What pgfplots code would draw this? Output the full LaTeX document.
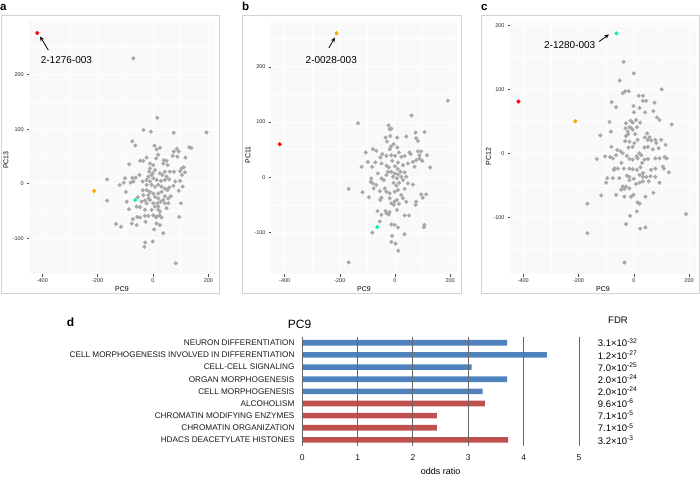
\documentclass[border=0pt]{standalone}
\usepackage{fontspec}
\setmainfont{Liberation Sans}
\usepackage{pgfplots}
\pgfplotsset{compat=1.18}
\usepackage{pgfplotstable}
\usetikzlibrary{arrows.meta}
\definecolor{ptgray}{HTML}{A8A8A8}
\definecolor{ptred}{HTML}{FF0000}
\definecolor{ptorange}{HTML}{FFA500}
\definecolor{ptgreen}{HTML}{00FA9A}
\definecolor{panelbg}{HTML}{F9F9F9}
\definecolor{framecol}{HTML}{D3D3D3}
\definecolor{barblue}{HTML}{4F81BD}
\definecolor{barred}{HTML}{C0504D}

\pgfplotstableread{
x y
15.7 121
-34 98.5
-8 95.5
75 93.6
193 94
-75 78
-64 70
5 70
13 63
25 66
131 67
139 65.5
86 64
75 59
93 59
-23 48
19 53
11 46.5
71 51
88 49.6
117 48
-46 42
-35 42
39 43
49 42
37 37
53 34
-11 37
1 34
-86 35.5
104 28
111 30
98 23
116 21
105 16
-11 28
-14 22
-1 19
25 19
43 22
61 22
76 22
34 16
49 13
-49 16
-75 11
-101 10
-63 11
-166 8
-105 2
-81 2
-71 4
-120 -2.4
-98 -15
-37 4
-23 7
-11 4
1 10
13 7
29 5
43 7
58 8
80 4
98 5
107 -5.5
93 -13
74 -4
59 -7
52 -12
64 -23
43 -23
55 -27
-37 -12
-23 -12
-11 -15
-35 -21
-17 -21
1 -18
19 -18
31 -15
37 -30
-166 -31
-95 -33
-55 -25
-41 -33
-29 -31
-16 -27
-23 -36
-11 -30
16 -36
28 -33
43 -36
55 -36
101 -36
-87 -47
-59 -42
-47 -43
-29 -48
19 -42
49 -45
25 -51
13 -61
-73 -65
-57 -61
-47 -62
-29 -59
-17 -59
1 -58
10 -61
31 -62
-134 -74
-116 -79
-77 -73
-59 -76
-27 -70
13 -73
25 -76
37 -91
4 -84
95 -61
-28 -108
-1 -106
-31 -116
82 -146
-71 230
-5 16
7 25
-17 13
-5 -2
7 -5.5
19 -2
-23 -2
31 -5.5
43 -9
7 -24
19 -27
1 -36
7 -42
-5 -48
19 -48
23 -58
}\dataA

\pgfplotstableread{
x y
192 139
60 112
-134 98
-23 94
-13 88
-19 87
75 81
107 82
-34 72
-17 75
8 72
41 74
-29 65
77 71
83 66
-14 56
-19 51
8 54
-80 51
-68 48
-106 45
-46 42
-31 39
-53 36
-13 40
0 39
23 37
35 39
53 45
57 42
83 47
95 47
89 40
116 40
-98 28
-71 27
-49 25
-31 21
-22 18
11 27
29 22
47 25
65 28
77 31
99 30
89 34
71 19
-121 19
-83 19
128 18
-13 10
-1 7
11 5
-7 1
7 -2
23 1
35 9
41 1
-62 7
-49 -2
-31 4
-86 -2
-80 -11
-88 -8
-68 -14
-77 -20
-168 -21
-118 -27
-94 -36
-55 -25
-37 -20
-31 -26
-19 -29
-1 -26
11 -23
23 -32
35 -21
47 -11
65 -13
-53 -41
-49 -37
-19 -38
-1 -44
7 -41
29 -38
41 -44
-13 -47
-4 -50
14 -48
77 -44
75 -50
95 -31
113 -31
101 -37
-34 -61
-19 -63
-23 -67
-31 -65
7 -59
-63 -61
-49 -68
-55 -80
35 -69
51 -69
-13 -85
-1 -86
11 -91
107 -86
105 -90
-82 -100
-10 -106
35 -103
-13 -117
2 -120
12 -133
-168 -154
0 20
10 15
-5 -10
15 -10
-10 30
20 10
5 -15
-25 10
30 -5
-40 -5
15 45
-5 60
}\dataB

\pgfplotstableread{
x y
-37 143
0 125
-51 114
101 100
-40 94
-31 97
-18 97
18 90
33 90
-80 80
33 82
45 82
75 79
-64 72
-1 74
21 71
0 64
41 64
71 66
84 56
93 52
-88 49
137 45
-28 47
-12 51
-4 48
8 52
23 48
-30 39
-16 41
-4 37
11 41
-22 34
-83 34
-121 28
48 31
57 25
51 21
63 20
78 21
99 21
81 16
90 8
115 13
-28 27
-31 19
-16 18
2 16
14 21
-4 10
-19 9
-81 10
39 9
51 10
69 6
-60 5
-48 3
-64 -3
-40 0
-76 -8
-86 -6
-104 -5
-134 -9
-25 -4
-16 -9
-4 -10
14 -8
27 -3
39 -10
51 -9
78 -8
93 -8
111 -6
119 -8
-70 -24
-58 -24
-72 -26
-36 -24
-16 -24
-4 -25
11 -26
24 -22
33 -31
63 -26
78 -24
105 -21
109 -24
127 -30
-96 -39
-76 -39
-52 -39
-16 -37
-16 -42
21 -34
33 -37
45 -37
60 -36
78 -37
-100 -46
-40 -52
-28 -52
-16 -55
8 -48
21 -46
33 -44
54 -44
93 -46
-46 -57
-34 -56
-64 -65
-34 -68
-10 -68
-1 -65
42 -68
71 -62
-118 -66
21 -79
14 -77
-168 -79
11 -91
-13 -98
189 -95
-28 -111
23 -118
42 -116
-168 -125
-34 -171
-20 30
-10 40
5 30
20 0
30 -15
0 -40
-25 -35
40 25
-45 -15
10 -5
}\dataC

\pgfplotstableread{
y odds
0 3.70
1 4.42
2 3.06
3 3.70
4 3.26
}\dataBlue
\pgfplotstableread{
y odds
5 3.30
6 2.43
7 2.43
8 3.72
}\dataRed

\pgfplotsset{
  scatterpanel/.style={
    scale only axis, width=185.7pt, height=253pt, anchor=south west,
    axis background/.style={fill=panelbg},
    axis line style={draw=none},
    xtick={-400,-200,0,200}, minor xtick={-300,-100,100},
    grid=both,
    major grid style={white, line width=0.9pt},
    minor grid style={white, line width=0.45pt},
    tick align=outside, major tick length=2.5pt, minor tick length=0pt,
    xtick pos=bottom, ytick pos=left,
    every tick/.style={black!70, line width=0.4pt},
    ticklabel style={font=\fontsize{5.5}{6}\selectfont, text=black!85},
    xticklabel style={yshift=1pt},
    yticklabel style={xshift=0.5pt},
    /pgf/number format/assume math mode=true,
  },
  graypts/.style={only marks, mark=*, mark size=1.85pt, color=ptgray},
}

\begin{document}
\begin{tikzpicture}[x=1pt,y=1pt]
\path[use as bounding box] (0,0) rectangle (700,-479);

% frames
\draw[framecol, line width=0.8pt] (1,-15) rectangle (219,-293);
\draw[framecol, line width=0.8pt] (242,-15) rectangle (461,-293);
\draw[framecol, line width=0.8pt] (481,-15) rectangle (699,-293);

% panel a
\begin{axis}[scatterpanel, at={(29.3pt,-274pt)},
  xmin=-447, xmax=224, ymin=-165.7, ymax=298.5,
  ytick={-100,0,100,200}, minor ytick={-50,50,150,250}]
\addplot[graypts] table {\dataA};
\addplot[only marks, mark=*, mark size=1.85pt, color=ptorange] coordinates {(-212,-13.4)};
\addplot[only marks, mark=*, mark size=1.85pt, color=ptgreen] coordinates {(-64,-30)};
\addplot[only marks, mark=*, mark size=1.85pt, color=ptred] coordinates {(-418,276.5)};
\draw[-{Stealth[length=4.5pt,width=4pt]}, line width=0.8pt] (axis cs:-378,245) -- (axis cs:-408,270);
\node[font=\fontsize{10}{12}\selectfont] at (axis cs:-313,227) {2-1276-003};
\end{axis}

% panel b
\begin{axis}[scatterpanel, at={(271pt,-274pt)},
  xmin=-449.6, xmax=224, ymin=-175, ymax=283,
  ytick={-100,0,100,200}, minor ytick={-150,-50,50,150,250}]
\addplot[graypts] table {\dataB};
\addplot[only marks, mark=*, mark size=1.85pt, color=ptred] coordinates {(-418,60)};
\addplot[only marks, mark=*, mark size=1.85pt, color=ptgreen] coordinates {(-64,-90)};
\addplot[only marks, mark=*, mark size=1.85pt, color=ptorange] coordinates {(-212,261)};
\draw[-{Stealth[length=4.5pt,width=4pt]}, line width=0.8pt] (axis cs:-240,234) -- (axis cs:-218,253);
\node[font=\fontsize{10}{12}\selectfont] at (axis cs:-231,212.5) {2-0028-003};
\end{axis}

% panel c
\begin{axis}[scatterpanel, at={(510pt,-274pt)},
  xmin=-448, xmax=224, ymin=-189, ymax=207,
  ytick={-100,0,100,200}, minor ytick={-150,-50,50,150}]
\addplot[graypts] table {\dataC};
\addplot[only marks, mark=*, mark size=1.85pt, color=ptred] coordinates {(-417,81)};
\addplot[only marks, mark=*, mark size=1.85pt, color=ptorange] coordinates {(-212,50)};
\addplot[only marks, mark=*, mark size=1.85pt, color=ptgreen] coordinates {(-63,187.5)};
\draw[-{Stealth[length=4.5pt,width=4pt]}, line width=0.8pt] (axis cs:-125,175) -- (axis cs:-90,186);
\node[font=\fontsize{10}{12}\selectfont] at (axis cs:-232,168.7) {2-1280-003};
\end{axis}

% axis labels for scatter panels
\node[font=\fontsize{7}{8}\selectfont, rotate=90] at (6,-160) {PC13};
\node[font=\fontsize{7}{8}\selectfont, rotate=90] at (248,-155) {PC11};
\node[font=\fontsize{7}{8}\selectfont, rotate=90] at (488.5,-156.7) {PC12};
\node[font=\fontsize{7}{8}\selectfont] at (122,-289) {PC9};
\node[font=\fontsize{7}{8}\selectfont] at (364,-289) {PC9};
\node[font=\fontsize{7}{8}\selectfont] at (603,-289) {PC9};

% panel letters
\node[font=\fontsize{11.5}{13}\selectfont\bfseries, anchor=base west, inner sep=0pt] at (0,-10) {a};
\node[font=\fontsize{11.5}{13}\selectfont\bfseries, anchor=base west, inner sep=0pt] at (242,-10) {b};
\node[font=\fontsize{11.5}{13}\selectfont\bfseries, anchor=base west, inner sep=0pt] at (481,-10) {c};
\node[font=\fontsize{12}{14}\selectfont\bfseries, anchor=base west, inner sep=0pt] at (66.7,-326) {d};

% panel d
\begin{axis}[at={(302.3pt,-446pt)}, anchor=south west,
  scale only axis, width=276.7pt, height=109.3pt,
  xmin=0, xmax=5, ymin=-0.5, ymax=8.5, y dir=reverse,
  xbar, bar width=5.6pt,
  axis line style={draw=none},
  major tick length=0pt,
  xtick={0,1,2,3,4,5},
  ytick={0,1,2,3,4,5,6,7,8},
  yticklabels={NEURON DIFFERENTIATION, CELL MORPHOGENESIS INVOLVED IN DIFFERENTIATION, CELL-CELL SIGNALING, ORGAN MORPHOGENESIS, CELL MORPHOGENESIS, ALCOHOLISM, CHROMATIN MODIFYING ENZYMES, CHROMATIN ORGANIZATION, HDACS DEACETYLATE HISTONES},
  yticklabel style={font=\fontsize{8.2}{9}\selectfont, text=black!90, xshift=-4.3pt},
  xticklabel style={font=\fontsize{8.5}{10}\selectfont, text=black!90, yshift=-5pt},
  /pgf/number format/assume math mode=true,
  xmajorgrids, major grid style={black!60, line width=1pt},
  axis on top, clip=false]
\addplot[fill=barblue, draw=none, bar shift=0pt] table[x=odds, y=y] {\dataBlue};
\addplot[fill=barred, draw=none, bar shift=0pt] table[x=odds, y=y] {\dataRed};
\draw[black, line width=1pt] (axis cs:0,-0.5) -- (axis cs:0,8.5);
\end{axis}

\node[font=\fontsize{12}{14}\selectfont] at (299.5,-324.3) {PC9};
\node[font=\fontsize{9.5}{11}\selectfont] at (618,-320.7) {FDR};
\node[font=\fontsize{9}{11}\selectfont] at (440.6,-471.7) {odds ratio};
\foreach \v [count=\i from 0] in {3.1×10\textsuperscript{-32}, 1.2×10\textsuperscript{-27}, 7.0×10\textsuperscript{-25}, 2.0×10\textsuperscript{-24}, 2.0×10\textsuperscript{-24}, 9.6×10\textsuperscript{-6}, 7.1×10\textsuperscript{-5}, 7.1×10\textsuperscript{-5}, 3.2×10\textsuperscript{-3}} {
  \node[font=\fontsize{9.5}{11}\selectfont, anchor=west, inner sep=0pt] at (597.7,{-342.8-12.14*\i}) {\v};
}
\end{tikzpicture}
\end{document}
